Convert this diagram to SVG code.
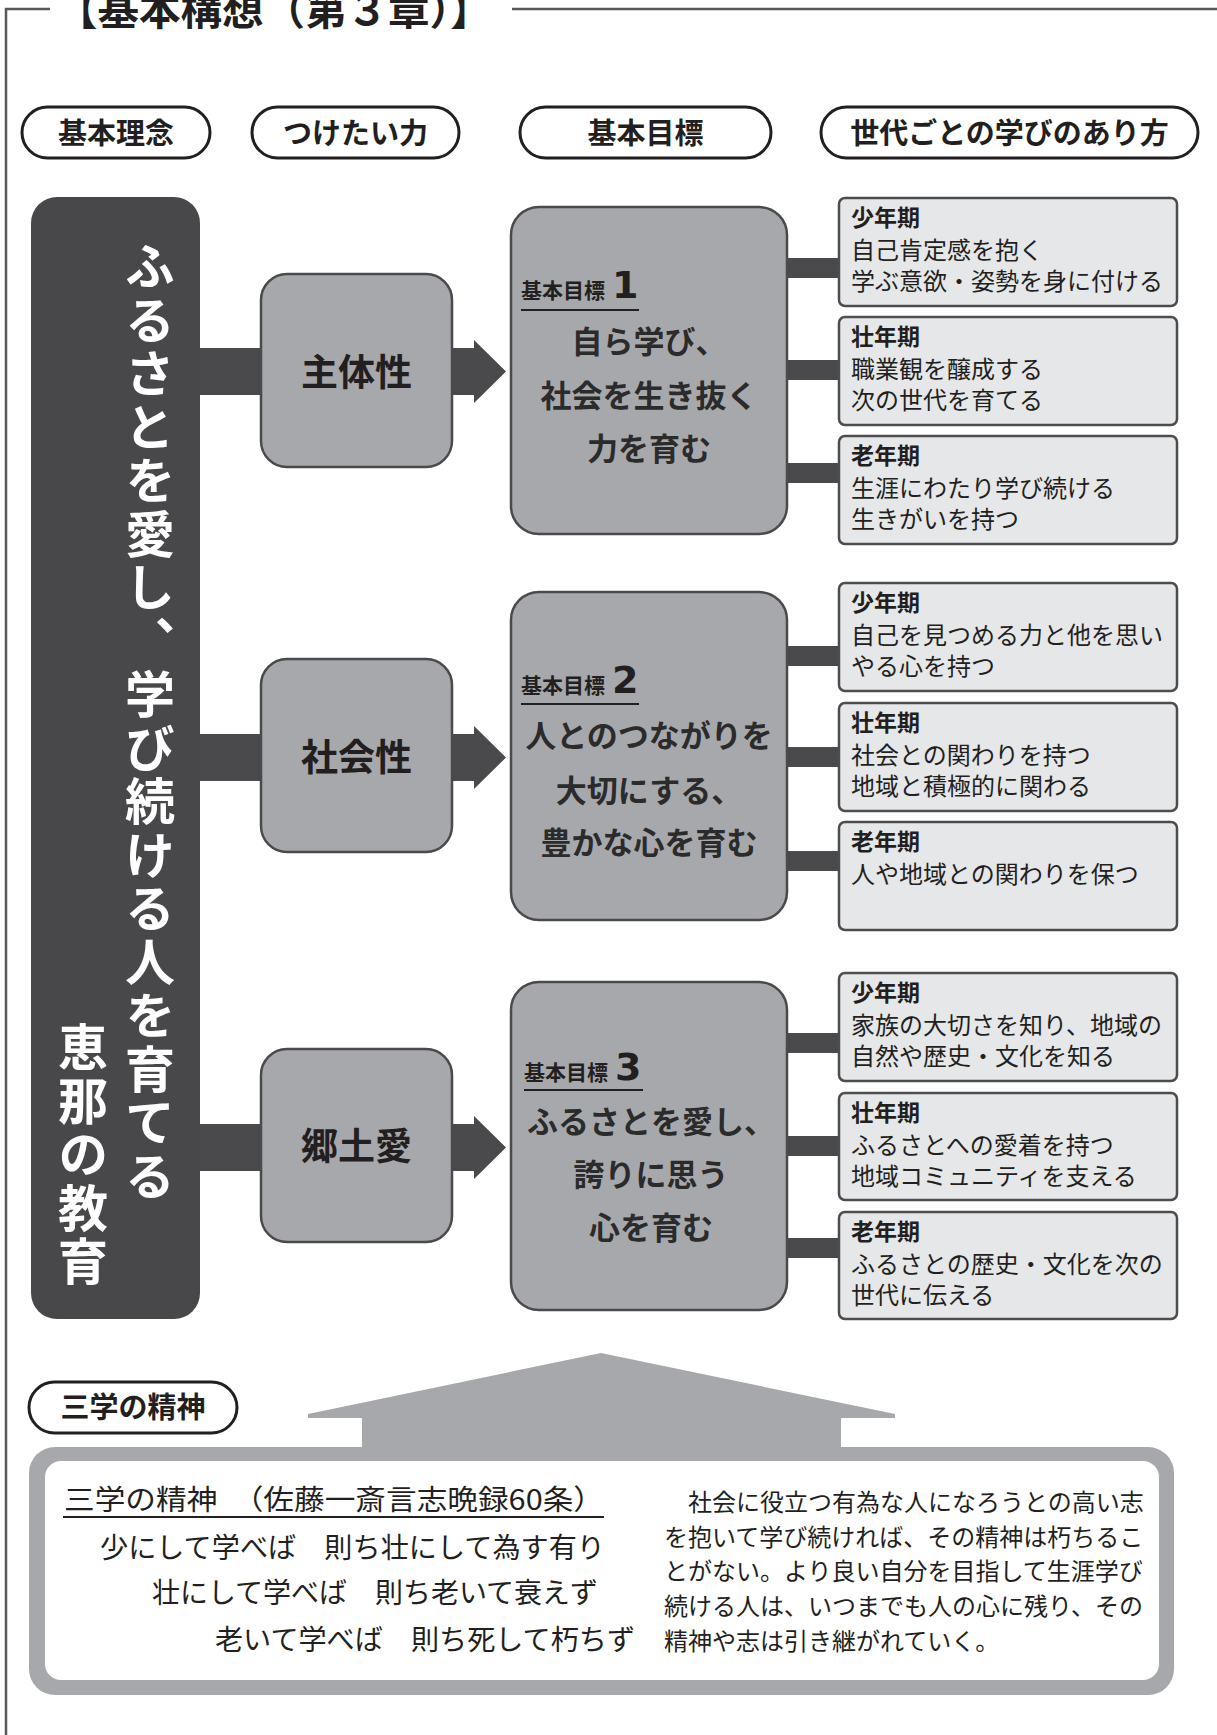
<svg xmlns="http://www.w3.org/2000/svg" width="1217" height="1735" viewBox="0 0 1217 1735">
<defs>
<style>
.frame{stroke:#58595b;stroke-width:2.5;fill:none}
.jp{font-family:"Noto Sans CJK JP","Noto Sans CJK SC",sans-serif}
.pill rect{fill:#fff;stroke:#231f20;stroke-width:3}
.pill text{font-family:"Noto Sans CJK JP",sans-serif;font-weight:700;font-size:29px;fill:#231f20;text-anchor:middle}
.dark{fill:#48484a}
.vt{font-family:"Noto Sans CJK JP",sans-serif;font-weight:700;font-size:50px;fill:#fff;writing-mode:vertical-rl;letter-spacing:3.5px}
.box{fill:#a7a8ab;stroke:#4a4a4c;stroke-width:2.5}
.skill text{font-family:"Noto Sans CJK JP",sans-serif;font-weight:700;font-size:37px;fill:#231f20;text-anchor:middle}
.goal .lbl{font-family:"Noto Sans CJK JP",sans-serif;font-weight:700;font-size:21px;fill:#231f20}
.goal .num{font-family:"DejaVu Sans",sans-serif;font-weight:700;font-size:38px;fill:#231f20}
.goal .t{font-family:"Noto Sans CJK JP",sans-serif;font-weight:700;font-size:31px;fill:#2b2b2b;text-anchor:middle}
.goal line{stroke:#231f20;stroke-width:2}
.age rect{fill:#e6e7e8;stroke:#4d4d4f;stroke-width:2.5}
.age .h{font-family:"Noto Sans CJK JP",sans-serif;font-weight:700;font-size:23px;fill:#231f20}
.age .b{font-family:"Noto Sans CJK JP",sans-serif;font-weight:400;font-size:24px;fill:#231f20}
.bar{fill:#4a4a4c}
.cal{font-family:"Noto Sans CJK JP",sans-serif;font-weight:400;font-size:28px;fill:#231f20}
.para{font-family:"Noto Sans CJK JP",sans-serif;font-weight:400;font-size:24px;fill:#231f20}
</style>
</defs>
<rect width="1217" height="1735" fill="#fff"/>

<g id="frame">
<path class="frame" d="M6,1735 V9 H50 M512,9 H1217"/>
<text x="56" y="25" class="jp" font-weight="700" font-size="41.5" fill="#231f20">【基本構想（第３章）】</text>
</g>

<g id="header-kihonrinen" class="pill"><rect x="22" y="107" width="188" height="51" rx="25.5"/><text x="116" y="143.5">基本理念</text></g>
<g id="header-tsuketaichikara" class="pill"><rect x="252" y="107" width="207" height="51" rx="25.5"/><text x="355.5" y="143.5">つけたい力</text></g>
<g id="header-kihonmokuhyo" class="pill"><rect x="520" y="107" width="251" height="51" rx="25.5"/><text x="645.5" y="143.5">基本目標</text></g>
<g id="header-sedai" class="pill"><rect x="821" y="107" width="377" height="51" rx="25.5"/><text x="1009.5" y="143.5">世代ごとの学びのあり方</text></g>

<g id="connectors">
<rect class="bar" x="198" y="348" width="64" height="47"/>
<rect class="bar" x="198" y="734" width="64" height="47"/>
<rect class="bar" x="198" y="1124" width="64" height="47"/>
<path class="bar" d="M451,348 H474 V340 L506,371.5 L474,403 V395 H451 Z"/>
<path class="bar" d="M451,734 H474 V726 L506,757.5 L474,789 V781 H451 Z"/>
<path class="bar" d="M451,1124 H474 V1116 L506,1147.5 L474,1179 V1171 H451 Z"/>
<rect class="bar" x="786" y="258" width="54" height="20"/>
<rect class="bar" x="786" y="360" width="54" height="20"/>
<rect class="bar" x="786" y="463" width="54" height="20"/>
<rect class="bar" x="786" y="646" width="54" height="20"/>
<rect class="bar" x="786" y="747" width="54" height="20"/>
<rect class="bar" x="786" y="851" width="54" height="20"/>
<rect class="bar" x="786" y="1033" width="54" height="20"/>
<rect class="bar" x="786" y="1136" width="54" height="20"/>
<rect class="bar" x="786" y="1238" width="54" height="20"/>
<polygon fill="#a7a8ab" points="601,1353 895,1414 895,1418 841,1418 841,1452 362,1452 362,1418 308,1418 308,1414"/>
</g>

<g id="kihonrinen">
<rect class="dark" x="31" y="197" width="169" height="1122" rx="26"/>
<text class="vt" x="150" y="241">ふるさとを愛し、学び続ける人を育てる</text>
<text class="vt" x="83" y="1022">恵那の教育</text>
</g>

<g id="skill1" class="skill"><rect class="box" x="261" y="274" width="191" height="193" rx="26"/><text x="356.5" y="386">主体性</text></g>
<g id="skill2" class="skill"><rect class="box" x="261" y="659" width="191" height="193" rx="26"/><text x="356.5" y="771">社会性</text></g>
<g id="skill3" class="skill"><rect class="box" x="261" y="1049" width="191" height="193" rx="26"/><text x="356.5" y="1160">郷土愛</text></g>

<g id="goal1" class="goal">
<rect class="box" x="511" y="207" width="276" height="327" rx="28"/>
<text class="lbl" x="521" y="298">基本目標</text><text class="num" x="612" y="298">1</text>
<line x1="521" y1="310" x2="639" y2="310"/>
<text class="t" x="649" y="353">自ら学び、</text>
<text class="t" x="649" y="407">社会を生き抜く</text>
<text class="t" x="649" y="460">力を育む</text>
</g>
<g id="goal2" class="goal">
<rect class="box" x="511" y="592" width="276" height="328" rx="28"/>
<text class="lbl" x="521" y="693">基本目標</text><text class="num" x="612" y="693">2</text>
<line x1="521" y1="704" x2="639" y2="704"/>
<text class="t" x="649" y="747">人とのつながりを</text>
<text class="t" x="649" y="802">大切にする、</text>
<text class="t" x="649" y="854">豊かな心を育む</text>
</g>
<g id="goal3" class="goal">
<rect class="box" x="511" y="982" width="276" height="328" rx="28"/>
<text class="lbl" x="524" y="1080">基本目標</text><text class="num" x="615" y="1080">3</text>
<line x1="524" y1="1090" x2="643" y2="1090"/>
<text class="t" x="651" y="1133">ふるさとを愛し、</text>
<text class="t" x="651" y="1186">誇りに思う</text>
<text class="t" x="651" y="1239">心を育む</text>
</g>

<g id="age1-1" class="age"><rect x="839" y="198" width="338" height="108" rx="6"/><text class="h" x="851" y="226">少年期</text><text class="b" x="851" y="259">自己肯定感を抱く</text><text class="b" x="851" y="290">学ぶ意欲・姿勢を身に付ける</text></g>
<g id="age1-2" class="age"><rect x="839" y="317" width="338" height="108" rx="6"/><text class="h" x="851" y="345">壮年期</text><text class="b" x="851" y="378">職業観を醸成する</text><text class="b" x="851" y="409">次の世代を育てる</text></g>
<g id="age1-3" class="age"><rect x="839" y="436" width="338" height="108" rx="6"/><text class="h" x="851" y="464">老年期</text><text class="b" x="851" y="497">生涯にわたり学び続ける</text><text class="b" x="851" y="528">生きがいを持つ</text></g>

<g id="age2-1" class="age"><rect x="839" y="583" width="338" height="108" rx="6"/><text class="h" x="851" y="611">少年期</text><text class="b" x="851" y="644">自己を見つめる力と他を思い</text><text class="b" x="851" y="675">やる心を持つ</text></g>
<g id="age2-2" class="age"><rect x="839" y="703" width="338" height="108" rx="6"/><text class="h" x="851" y="731">壮年期</text><text class="b" x="851" y="764">社会との関わりを持つ</text><text class="b" x="851" y="795">地域と積極的に関わる</text></g>
<g id="age2-3" class="age"><rect x="839" y="822" width="338" height="108" rx="6"/><text class="h" x="851" y="850">老年期</text><text class="b" x="851" y="883">人や地域との関わりを保つ</text></g>

<g id="age3-1" class="age"><rect x="839" y="973" width="338" height="108" rx="6"/><text class="h" x="851" y="1001">少年期</text><text class="b" x="851" y="1034">家族の大切さを知り、地域の</text><text class="b" x="851" y="1065">自然や歴史・文化を知る</text></g>
<g id="age3-2" class="age"><rect x="839" y="1093" width="338" height="107" rx="6"/><text class="h" x="851" y="1121">壮年期</text><text class="b" x="851" y="1154">ふるさとへの愛着を持つ</text><text class="b" x="851" y="1185">地域コミュニティを支える</text></g>
<g id="age3-3" class="age"><rect x="839" y="1212" width="338" height="107" rx="6"/><text class="h" x="851" y="1240">老年期</text><text class="b" x="851" y="1273">ふるさとの歴史・文化を次の</text><text class="b" x="851" y="1304">世代に伝える</text></g>

<g id="header-sangaku" class="pill"><rect x="29" y="1382" width="208" height="51" rx="25.5"/><text x="133" y="1418">三学の精神</text></g>

<g id="sangaku-box">
<rect x="29" y="1447" width="1145" height="248" rx="26" fill="#a7a8ab"/>
<rect x="45" y="1461" width="1114" height="219" rx="16" fill="#fff"/>
<text class="cal" x="64" y="1510" textLength="540" lengthAdjust="spacingAndGlyphs">三学の精神　（佐藤一斎言志晩録60条）</text>
<line x1="63" y1="1517" x2="604" y2="1517" stroke="#231f20" stroke-width="2"/>
<text class="cal" x="100" y="1558" textLength="505" lengthAdjust="spacingAndGlyphs">少にして学べば　則ち壮にして為す有り</text>
<text class="cal" x="152" y="1603" textLength="446" lengthAdjust="spacingAndGlyphs">壮にして学べば　則ち老いて衰えず</text>
<text class="cal" x="215" y="1650" textLength="420" lengthAdjust="spacingAndGlyphs">老いて学べば　則ち死して朽ちず</text>
<text class="para" x="664" y="1511">　社会に役立つ有為な人になろうとの高い志</text>
<text class="para" x="664" y="1546">を抱いて学び続ければ、その精神は朽ちるこ</text>
<text class="para" x="664" y="1580">とがない。より良い自分を目指して生涯学び</text>
<text class="para" x="664" y="1615">続ける人は、いつまでも人の心に残り、その</text>
<text class="para" x="664" y="1650">精神や志は引き継がれていく。</text>
</g>
</svg>
